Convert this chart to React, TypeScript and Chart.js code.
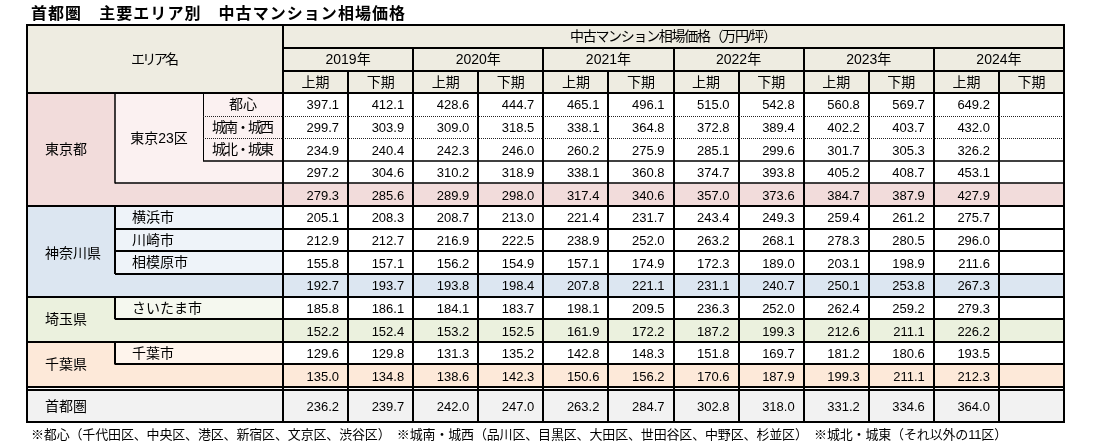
import React, { useEffect, useRef } from 'react';
import { Chart, registerables } from 'chart.js';
Chart.register(...registerables);

// ---------- text ----------
const titleText = '首都圏　主要エリア別　中古マンション相場価格';
const footnoteText = '※都心（千代田区、中央区、港区、新宿区、文京区、渋谷区）　※城南・城西（品川区、目黒区、大田区、世田谷区、中野区、杉並区）　※城北・城東（それ以外の11区）';
const areaHeader = 'エリア名';
const priceHeader = '中古マンション相場価格（万円/坪）';
const years = ['2019年', '2020年', '2021年', '2022年', '2023年', '2024年'];
const halves = ['上期', '下期'];

const prefectureLabels = ['東京都', '神奈川県', '埼玉県', '千葉県'];
const tokyoWardsLabel = '東京23区';
const tokyoSubLabels = ['都心', '城南・城西', '城北・城東'];
const kanagawaCities = ['横浜市', '川崎市', '相模原市'];
const saitamaCities = ['さいたま市'];
const chibaCities = ['千葉市'];
const metroLabel = '首都圏';

// ---------- values (万円/坪), 2019上期 … 2024下期 ----------
const tokyoCore = [397.1, 412.1, 428.6, 444.7, 465.1, 496.1, 515.0, 542.8, 560.8, 569.7, 649.2, null];
const tokyoSouthWest = [299.7, 303.9, 309.0, 318.5, 338.1, 364.8, 372.8, 389.4, 402.2, 403.7, 432.0, null];
const tokyoNorthEast = [234.9, 240.4, 242.3, 246.0, 260.2, 275.9, 285.1, 299.6, 301.7, 305.3, 326.2, null];
const tokyo23 = [297.2, 304.6, 310.2, 318.9, 338.1, 360.8, 374.7, 393.8, 405.2, 408.7, 453.1, null];
const tokyoTotal = [279.3, 285.6, 289.9, 298.0, 317.4, 340.6, 357.0, 373.6, 384.7, 387.9, 427.9, null];
const yokohama = [205.1, 208.3, 208.7, 213.0, 221.4, 231.7, 243.4, 249.3, 259.4, 261.2, 275.7, null];
const kawasaki = [212.9, 212.7, 216.9, 222.5, 238.9, 252.0, 263.2, 268.1, 278.3, 280.5, 296.0, null];
const sagamihara = [155.8, 157.1, 156.2, 154.9, 157.1, 174.9, 172.3, 189.0, 203.1, 198.9, 211.6, null];
const kanagawaTotal = [192.7, 193.7, 193.8, 198.4, 207.8, 221.1, 231.1, 240.7, 250.1, 253.8, 267.3, null];
const saitamaCity = [185.8, 186.1, 184.1, 183.7, 198.1, 209.5, 236.3, 252.0, 262.4, 259.2, 279.3, null];
const saitamaTotal = [152.2, 152.4, 153.2, 152.5, 161.9, 172.2, 187.2, 199.3, 212.6, 211.1, 226.2, null];
const chibaCity = [129.6, 129.8, 131.3, 135.2, 142.8, 148.3, 151.8, 169.7, 181.2, 180.6, 193.5, null];
const chibaTotal = [135.0, 134.8, 138.6, 142.3, 150.6, 156.2, 170.6, 187.9, 199.3, 211.1, 212.3, null];
const metroTotal = [236.2, 239.7, 242.0, 247.0, 263.2, 284.7, 302.8, 318.0, 331.2, 334.6, 364.0, null];

// ---------- layout (scale units = page pixels) ----------
const W = 1093;
const H = 447;
const XL = 27, X1 = 115, X2 = 203, XD = 283, XR = 1064;
const YT = 25, YH1 = 48, YH2 = 71, YD = 93, YE = 387, YM = 390, YB = 422;
const NCOL = 12;
const NROW = 13;
const colX = (i: number) => XD + (i * (XR - XD)) / NCOL;
const rowY = (i: number) => YD + (i * (YE - YD)) / NROW;

const C = {
  header: '#EEECE1',
  tokyo: '#F2DCDB', tokyoIn: '#FBF1F1',
  kana: '#DCE6F1', kanaIn: '#EEF3F9',
  sai: '#EBF1DE', saiIn: '#F5F8EF',
  chiba: '#FDE9D9', chibaIn: '#FEF4EC',
  metro: '#F2F2F2',
  line: '#000000',
};

const FONT = '"Liberation Sans", "Noto Sans CJK JP", sans-serif';

const tablePlugin = {
  id: 'tablePlugin',
  afterDraw(chart: any) {
    const ctx: CanvasRenderingContext2D = chart.ctx;
    const xs = chart.scales.x;
    const ys = chart.scales.y;
    const X = (v: number) => xs.getPixelForValue(v);
    const Y = (v: number) => ys.getPixelForValue(v);

    const fill = (x0: number, y0: number, x1: number, y1: number, c: string) => {
      ctx.fillStyle = c;
      ctx.fillRect(X(x0), Y(y0), X(x1) - X(x0), Y(y1) - Y(y0));
    };
    const hline = (x0: number, x1: number, y: number, w = 2, dash: number[] = []) => {
      ctx.save();
      ctx.strokeStyle = dash.length ? '#222' : C.line;
      ctx.lineWidth = w;
      ctx.setLineDash(dash);
      const yy = Math.round(Y(y)) + (w % 2 === 1 ? 0.5 : 0);
      ctx.beginPath();
      ctx.moveTo(X(x0), yy);
      ctx.lineTo(X(x1), yy);
      ctx.stroke();
      ctx.restore();
    };
    const vline = (x: number, y0: number, y1: number, w = 2) => {
      ctx.save();
      ctx.strokeStyle = C.line;
      ctx.lineWidth = w;
      const xx = Math.round(X(x)) + (w % 2 === 1 ? 0.5 : 0);
      ctx.beginPath();
      ctx.moveTo(xx, Y(y0));
      ctx.lineTo(xx, Y(y1));
      ctx.stroke();
      ctx.restore();
    };
    const text = (
      s: string, x: number, y: number, align: CanvasTextAlign, font: string, fitW = 0,
    ) => {
      ctx.save();
      ctx.font = font;
      ctx.fillStyle = '#000';
      ctx.textAlign = align;
      ctx.textBaseline = 'middle';
      let shift = 0;
      if (fitW > 0) {
        (ctx as any).letterSpacing = '0px';
        const m = ctx.measureText(s).width;
        const n = Math.max(1, [...s].length - 1);
        const ls = (fitW - m) / n;
        (ctx as any).letterSpacing = ls.toFixed(2) + 'px';
        if (align === 'center') shift = ls / 2;
      }
      ctx.fillText(s, X(x) + shift, Y(y));
      ctx.restore();
    };

    // page background
    fill(0, 0, W, H, '#FFFFFF');

    // ---- fills ----
    fill(XL, YT, XR, YD, C.header);
    // Tokyo
    fill(XL, rowY(0), XR, rowY(5), '#FFFFFF');
    fill(XL, rowY(0), XD, rowY(5), C.tokyo);
    fill(X1, rowY(0), XD, rowY(4), C.tokyoIn);
    fill(XD, rowY(4), XR, rowY(5), C.tokyo);
    // Kanagawa
    fill(XL, rowY(5), XR, rowY(9), '#FFFFFF');
    fill(XL, rowY(5), XD, rowY(9), C.kana);
    fill(X1, rowY(5), XD, rowY(8), C.kanaIn);
    fill(XD, rowY(8), XR, rowY(9), C.kana);
    // Saitama
    fill(XL, rowY(9), XR, rowY(11), '#FFFFFF');
    fill(XL, rowY(9), XD, rowY(11), C.sai);
    fill(X1, rowY(9), XD, rowY(10), C.saiIn);
    fill(XD, rowY(10), XR, rowY(11), C.sai);
    // Chiba
    fill(XL, rowY(11), XR, rowY(13), '#FFFFFF');
    fill(XL, rowY(11), XD, rowY(13), C.chiba);
    fill(X1, rowY(11), XD, rowY(12), C.chibaIn);
    fill(XD, rowY(12), XR, rowY(13), C.chiba);
    // Metro
    fill(XL, YM, XR, YB, C.metro);

    // ---- lines ----
    // header
    hline(XD, XR, YH1);
    hline(XD, XR, YH2);
    hline(XL, XR, YD);
    for (let i = 1; i < NCOL; i++) {
      vline(colX(i), i % 2 === 0 ? YH1 : YH2, YB);
    }
    vline(XD, YT, YB);
    // Tokyo
    vline(X1, rowY(0), rowY(4), 1.5);
    vline(X2, rowY(0), rowY(3), 1);
    hline(X2, XR, rowY(1), 1, [1, 1]);
    hline(X2, XR, rowY(2), 1, [1, 1]);
    hline(X2, XR, rowY(3), 1.5);
    hline(X1, XR, rowY(4), 1.5);
    hline(XL, XR, rowY(5));
    // Kanagawa
    vline(X1, rowY(5), rowY(8), 2);
    hline(X1, XR, rowY(6));
    hline(X1, XR, rowY(7));
    hline(X1, XR, rowY(8));
    hline(XL, XR, rowY(9));
    // Saitama
    vline(X1, rowY(9), rowY(10), 2);
    hline(X1, XR, rowY(10));
    hline(XL, XR, rowY(11));
    // Chiba
    vline(X1, rowY(11), rowY(12), 2);
    hline(X1, XR, rowY(12));
    // double line
    hline(XL, XR, YE);
    hline(XL, XR, YM);
    // outer frame
    ctx.save();
    ctx.strokeStyle = C.line;
    ctx.lineWidth = 2;
    ctx.strokeRect(X(XL), Y(YT), X(XR) - X(XL), Y(YB) - Y(YT));
    ctx.restore();

    // ---- texts ----
    const fData = '13px ' + FONT;
    const fLab = '14px ' + FONT;
    const midY = (a: number, b: number) => (a + b) / 2 + 1;

    text(titleText, 31, 15, 'left', 'bold 16px ' + FONT, 374);
    text(areaHeader, (XL + XD) / 2, midY(YT, YD), 'center', fLab, 48);
    text(priceHeader, (XD + XR) / 2, midY(YT, YH1), 'center', fLab, 207);
    years.forEach((yr, i) => {
      text(yr, (colX(2 * i) + colX(2 * i + 2)) / 2, midY(YH1, YH2), 'center', fLab);
      halves.forEach((h, j) => {
        const c = 2 * i + j;
        text(h, (colX(c) + colX(c + 1)) / 2, midY(YH2, YD), 'center', fLab);
      });
    });

    // left labels
    text(prefectureLabels[0], 45, midY(rowY(0), rowY(5)), 'left', fLab);
    text(prefectureLabels[1], 45, midY(rowY(5), rowY(9)) + 2, 'left', fLab);
    text(prefectureLabels[2], 45, midY(rowY(9), rowY(11)), 'left', fLab);
    text(prefectureLabels[3], 45, midY(rowY(11), rowY(13)), 'left', fLab);
    text(tokyoWardsLabel, (X1 + X2) / 2, midY(rowY(0), rowY(4)), 'center', fLab);
    tokyoSubLabels.forEach((s, i) =>
      text(s, (X2 + XD) / 2, midY(rowY(i), rowY(i + 1)), 'center', fLab, s.length > 2 ? 62 : 0));
    kanagawaCities.forEach((s, i) => text(s, 132, midY(rowY(5 + i), rowY(6 + i)), 'left', fLab));
    saitamaCities.forEach((s, i) => text(s, 132, midY(rowY(9 + i), rowY(10 + i)), 'left', fLab));
    chibaCities.forEach((s, i) => text(s, 132, midY(rowY(11 + i), rowY(12 + i)), 'left', fLab));
    text(metroLabel, 45, midY(YM, YB), 'left', fLab);

    // values
    const rows = [
      tokyoCore, tokyoSouthWest, tokyoNorthEast, tokyo23, tokyoTotal,
      yokohama, kawasaki, sagamihara, kanagawaTotal,
      saitamaCity, saitamaTotal, chibaCity, chibaTotal,
    ];
    rows.forEach((vals, r) => {
      vals.forEach((v, c) => {
        if (v == null) return;
        text(v.toFixed(1), colX(c + 1) - 9, midY(rowY(r), rowY(r + 1)) + 0.5, 'right', fData);
      });
    });
    metroTotal.forEach((v, c) => {
      if (v == null) return;
      text(v.toFixed(1), colX(c + 1) - 9, midY(YM, YB), 'right', fData);
    });

    text(footnoteText, 31, 435, 'left', '13px ' + FONT, 976);
  },
};

export default function App() {
  const ref = useRef<HTMLCanvasElement | null>(null);
  useEffect(() => {
    document.body.style.margin = '0';
    document.body.style.overflow = 'hidden';
    const canvas = ref.current;
    if (!canvas) return;
    const chart = new Chart(canvas, {
      type: 'scatter',
      data: { datasets: [] },
      options: {
        animation: false,
        responsive: false,
        maintainAspectRatio: false,
        devicePixelRatio: 1,
        events: [],
        layout: { padding: 0 },
        plugins: { legend: { display: false }, tooltip: { enabled: false } },
        scales: {
          x: { type: 'linear', min: 0, max: W, display: false },
          y: { type: 'linear', min: 0, max: H, reverse: true, display: false },
        },
      },
      plugins: [tablePlugin],
    });
    return () => chart.destroy();
  }, []);
  return <canvas ref={ref} width={W} height={H} style={{ display: 'block', width: W, height: H }} />;
}
